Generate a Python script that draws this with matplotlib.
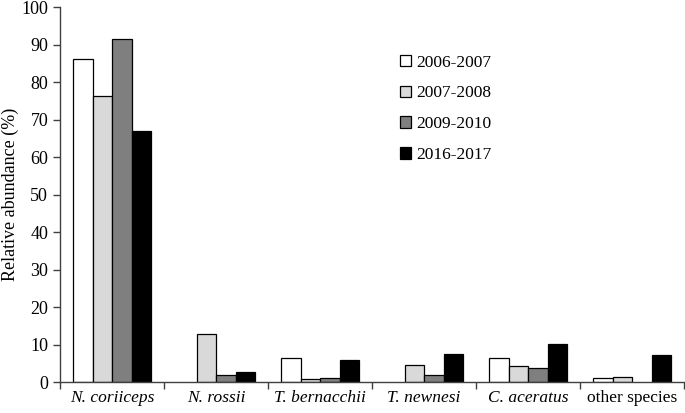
import numpy as np
import matplotlib.pyplot as plt
from matplotlib import font_manager as fm

# Times-like serif, whichever is installed
installed = set(f.name for f in fm.fontManager.ttflist)
serif = [n for n in ['Liberation Serif', 'Times New Roman', 'Tinos', 'Nimbus Roman',
                     'TeX Gyre Termes', 'STIXGeneral'] if n in installed]
plt.rcParams['font.family'] = serif[:1] + ['DejaVu Serif']

species = ['N. coriiceps', 'N. rossii', 'T. bernacchii', 'T. newnesi', 'C. aceratus', 'other species']
italic = [True, True, True, True, True, False]
seasons = ['2006-2007', '2007-2008', '2009-2010', '2016-2017']

s2006 = [86.2, 0.0, 6.3, 0.0, 6.4, 1.2]
s2007 = [76.3, 12.7, 0.8, 4.5, 4.3, 1.4]
s2009 = [91.5, 1.8, 1.0, 1.8, 3.7, 0.0]
s2016 = [67.0, 2.6, 5.9, 7.5, 10.2, 7.2]

colors = ['white', '#d9d9d9', '#7f7f7f', 'black']

fig = plt.figure(figsize=(6.85, 4.13), dpi=100)
ax = fig.add_axes([0.0876, 0.075, 0.911, 0.908])

x = np.arange(len(species))
w = 0.1875
for i, (vals, c, lab) in enumerate(zip([s2006, s2007, s2009, s2016], colors, seasons)):
    # skip zero bars so they don't draw a line on the baseline
    xs = [xx + (i - 1.5) * w for xx, v in zip(x, vals) if v > 0]
    vs = [v for v in vals if v > 0]
    ax.bar(xs, vs, w, color=c, edgecolor='black', linewidth=0.9, label=lab)

ax.set_xlim(-0.5, len(species) - 0.5)
ax.set_ylim(0, 100)
ax.set_yticks(range(0, 101, 10))
ax.set_xticks(np.arange(len(species) + 1) - 0.5)
ax.set_xticklabels([])
ax.tick_params(axis='x', length=5, color='#404040', width=1)
ax.tick_params(axis='y', length=5, color='#404040', width=1, labelsize=13)
for xx, name, it in zip(x, species, italic):
    ax.text(xx, -2.0, name, ha='center', va='top', fontsize=12.5,
            style='italic' if it else 'normal')

for s in ['top', 'right']:
    ax.spines[s].set_visible(False)
for s in ['left', 'bottom']:
    ax.spines[s].set_color('#404040')
    ax.spines[s].set_linewidth(1)

ax.set_ylabel('Relative abundance (%)', fontsize=13, labelpad=2)

ax.legend(loc='upper left', bbox_to_anchor=(0.52, 0.915), frameon=False,
          fontsize=12.5, handlelength=0.65, handleheight=0.65, handletextpad=0.25,
          labelspacing=0.86)

fig.savefig('out.png', dpi=100)
